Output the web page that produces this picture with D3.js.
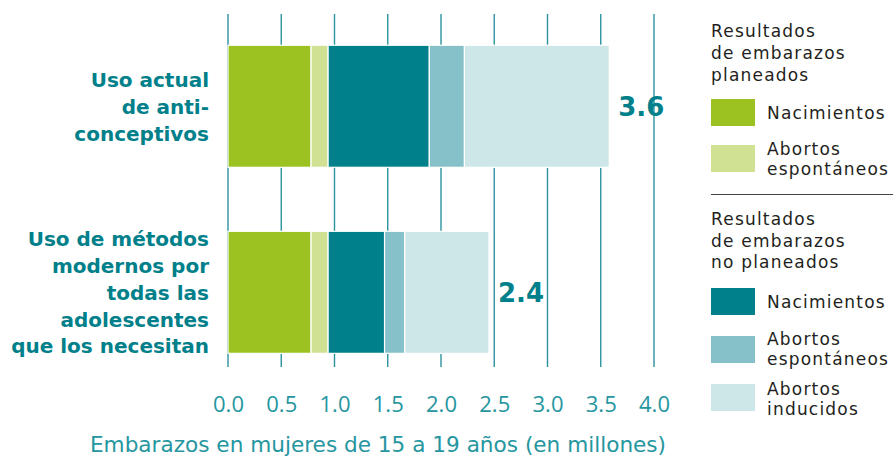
<!DOCTYPE html>
<html>
<head>
<meta charset="utf-8">
<script src="https://cdn.jsdelivr.net/npm/d3@7"></script>
<style>
  body { margin: 0; background: #fff; }
  svg { display: block; font-family: "DejaVu Sans", sans-serif; }
</style>
</head>
<body>
<script>
// chart values
const categories = ["actual", "moderno"];
const categoryLines = [
  ["Uso actual", "de anti-", "conceptivos"],
  ["Uso de métodos", "modernos por", "todas las", "adolescentes", "que los necesitan"]
];
const seriesKeys = ["planNac", "planAbEsp", "noPlanNac", "noPlanAbEsp", "noPlanAbInd"];
const planNac = [0.78, 0.78];
const planAbEsp = [0.16, 0.16];
const noPlanNac = [0.95, 0.53];
const noPlanAbEsp = [0.33, 0.19];
const noPlanAbInd = [1.36, 0.79];
const totalLabels = ["3.6", "2.4"];
const tickValues = [0, 0.5, 1, 1.5, 2, 2.5, 3, 3.5, 4];
const colors = ["#9bc220", "#d0e194", "#00808a", "#86c0c8", "#cde6e7"];

const width = 893, height = 458;

const svg = d3.select("body").append("svg")
  .attr("width", width)
  .attr("height", height);

// build table for stack
let rows = categories.map(function(c, i) {
  return {
    cat: c,
    planNac: planNac[i],
    planAbEsp: planAbEsp[i],
    noPlanNac: noPlanNac[i],
    noPlanAbEsp: noPlanAbEsp[i],
    noPlanAbInd: noPlanAbInd[i]
  };
});
let stacked = d3.stack().keys(seriesKeys)(rows);

let x = d3.scaleLinear().domain([0, 4]).range([228, 654]);
let y = d3.scaleBand()
  .domain(categories)
  .range([14, 384.6])
  .paddingInner(0.344)
  .paddingOuter(0.168);

let teal = "#00808a";
let gridColor = "#2b939d";

// gridlines
svg.append("g")
  .selectAll("line")
  .data(tickValues)
  .enter()
  .append("line")
  .attr("x1", d => x(d))
  .attr("x2", d => x(d))
  .attr("y1", 14)
  .attr("y2", 367)
  .attr("stroke", gridColor)
  .attr("stroke-width", 1.4);

// bars
svg.append("g")
  .selectAll("g")
  .data(stacked)
  .enter()
  .append("g")
  .attr("fill", (d, i) => colors[i])
  .selectAll("rect")
  .data(d => d)
  .enter()
  .append("rect")
  .attr("x", d => x(d[0]))
  .attr("width", d => x(d[1]) - x(d[0]))
  .attr("y", d => y(d.data.cat))
  .attr("height", y.bandwidth())
  .attr("stroke", "#fff")
  .attr("stroke-width", 1.2);

// total labels
svg.append("g")
  .selectAll("text")
  .data(rows)
  .enter()
  .append("text")
  .attr("x", d => x(d3.sum(seriesKeys, k => d[k])) + 9)
  .attr("y", d => y(d.cat) + y.bandwidth() / 2 + 10)
  .attr("fill", teal)
  .style("font-size", "26px")
  .style("font-weight", "bold")
  .text((d, i) => totalLabels[i]);

// category labels
categoryLines.forEach(function(lines, i) {
  let mid = y(categories[i]) + y.bandwidth() / 2;
  let lh = 26.8;
  let first = mid - (lines.length - 1) * lh / 2 + 7.5;
  let t = svg.append("text")
    .attr("text-anchor", "end")
    .attr("fill", teal)
    .style("font-size", "20px")
    .style("font-weight", "bold");
  lines.forEach(function(l, j) {
    t.append("tspan")
      .attr("x", 209)
      .attr("y", first + j * lh)
      .text(l);
  });
});

// x axis tick labels
let xAxis = d3.axisBottom(x)
  .tickValues(tickValues)
  .tickSize(0)
  .tickFormat(d3.format(".1f"));

let axisG = svg.append("g")
  .attr("transform", "translate(0,392)")
  .call(xAxis);
axisG.select(".domain").remove();
axisG.selectAll("text")
  .attr("dy", 0)
  .attr("y", 19.5)
  .attr("fill", "#2596a0")
  .style("font-size", "22px")
  .style("font-family", "'Open Sans', sans-serif");

svg.append("text")
  .attr("x", 378)
  .attr("y", 452)
  .attr("text-anchor", "middle")
  .attr("fill", "#2596a0")
  .style("font-size", "21.6px")
  .text("Embarazos en mujeres de 15 a 19 años (en millones)");

// legend
let legend = svg.append("g")
  .attr("fill", "#231f20")
  .style("font-size", "17px")
  .style("letter-spacing", "1.2px");

function lines(parent, xPos, ys, texts) {
  let t = parent.append("text");
  texts.forEach(function(s, j) {
    t.append("tspan").attr("x", xPos).attr("y", ys[j]).text(s);
  });
}

lines(legend, 711, [37, 59, 81], ["Resultados", "de embarazos", "planeados"]);
lines(legend, 711, [225, 247, 268], ["Resultados", "de embarazos", "no planeados"]);

legend.append("line")
  .attr("x1", 711).attr("x2", 893)
  .attr("y1", 194.5).attr("y2", 194.5)
  .attr("stroke", "#444")
  .attr("stroke-width", 1);

let legendItems = [
  { top: 99, labels: ["Nacimientos"], ys: [119] },
  { top: 145, labels: ["Abortos", "espontáneos"], ys: [155, 175] },
  { top: 288, labels: ["Nacimientos"], ys: [308] },
  { top: 336, labels: ["Abortos", "espontáneos"], ys: [345, 365] },
  { top: 384, labels: ["Abortos", "inducidos"], ys: [395, 415] }
];

legendItems.forEach(function(it, i) {
  legend.append("rect")
    .attr("x", 711)
    .attr("y", it.top)
    .attr("width", 44)
    .attr("height", 27)
    .attr("fill", colors[i]);
  lines(legend, 767, it.ys, it.labels);
});
</script>
</body>
</html>
